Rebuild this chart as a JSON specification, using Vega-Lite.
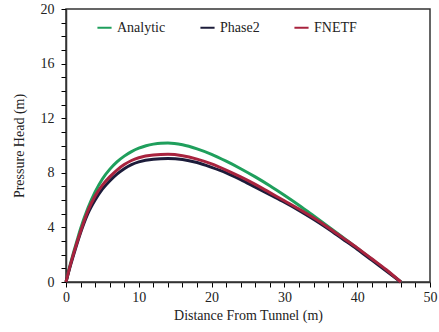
{
  "$schema": "https://vega.github.io/schema/vega-lite/v6.json",
  "width": 364,
  "height": 273,
  "autosize": "none",
  "padding": {"left": 66, "top": 9, "right": 9, "bottom": 50},
  "background": "white",
  "config": {
    "font": "'Liberation Serif', 'DejaVu Serif', serif",
    "view": {"stroke": "#333", "strokeWidth": 1.5},
    "legend": {"labelFont": "'Liberation Serif', 'DejaVu Serif', serif", "labelFontSize": 14, "labelColor": "#222"},
    "axis": {"grid": false, "domainColor": "#333", "domainWidth": 1.5, "labelColor": "#222", "titleColor": "#222", "labelFont": "'Liberation Serif', 'DejaVu Serif', serif", "titleFont": "'Liberation Serif', 'DejaVu Serif', serif", "labelFontSize": 14, "titleFontSize": 14, "titleFontWeight": "normal"}
  },
  "data": {"values": [
    {"series": "Analytic", "x": 0, "y": 0},
    {"series": "Analytic", "x": 0.5, "y": 1.1},
    {"series": "Analytic", "x": 1, "y": 2.1},
    {"series": "Analytic", "x": 1.5, "y": 3.0},
    {"series": "Analytic", "x": 2, "y": 3.9},
    {"series": "Analytic", "x": 3, "y": 5.4},
    {"series": "Analytic", "x": 4, "y": 6.6},
    {"series": "Analytic", "x": 5, "y": 7.55},
    {"series": "Analytic", "x": 6, "y": 8.25},
    {"series": "Analytic", "x": 7, "y": 8.8},
    {"series": "Analytic", "x": 8, "y": 9.22},
    {"series": "Analytic", "x": 9, "y": 9.55},
    {"series": "Analytic", "x": 10, "y": 9.8},
    {"series": "Analytic", "x": 11, "y": 9.98},
    {"series": "Analytic", "x": 12, "y": 10.1},
    {"series": "Analytic", "x": 13, "y": 10.17},
    {"series": "Analytic", "x": 14, "y": 10.18},
    {"series": "Analytic", "x": 16, "y": 10.05},
    {"series": "Analytic", "x": 18, "y": 9.75},
    {"series": "Analytic", "x": 20, "y": 9.35},
    {"series": "Analytic", "x": 22, "y": 8.85},
    {"series": "Analytic", "x": 24, "y": 8.3},
    {"series": "Analytic", "x": 26, "y": 7.7},
    {"series": "Analytic", "x": 28, "y": 7.05},
    {"series": "Analytic", "x": 30, "y": 6.35},
    {"series": "Analytic", "x": 32, "y": 5.62},
    {"series": "Analytic", "x": 34, "y": 4.85},
    {"series": "Analytic", "x": 36, "y": 4.07},
    {"series": "Analytic", "x": 38, "y": 3.28},
    {"series": "Analytic", "x": 40, "y": 2.48},
    {"series": "Analytic", "x": 42, "y": 1.67},
    {"series": "Analytic", "x": 44, "y": 0.85},
    {"series": "Analytic", "x": 46, "y": 0.0},
    {"series": "Phase2", "x": 0, "y": 0},
    {"series": "Phase2", "x": 0.5, "y": 1.0},
    {"series": "Phase2", "x": 1, "y": 1.9},
    {"series": "Phase2", "x": 2, "y": 3.6},
    {"series": "Phase2", "x": 3, "y": 5.0},
    {"series": "Phase2", "x": 4, "y": 6.0},
    {"series": "Phase2", "x": 5, "y": 6.8},
    {"series": "Phase2", "x": 6, "y": 7.4},
    {"series": "Phase2", "x": 7, "y": 7.9},
    {"series": "Phase2", "x": 8, "y": 8.3},
    {"series": "Phase2", "x": 9, "y": 8.6},
    {"series": "Phase2", "x": 10, "y": 8.8},
    {"series": "Phase2", "x": 12, "y": 9.0},
    {"series": "Phase2", "x": 14, "y": 9.05},
    {"series": "Phase2", "x": 16, "y": 8.98},
    {"series": "Phase2", "x": 18, "y": 8.75},
    {"series": "Phase2", "x": 20, "y": 8.4},
    {"series": "Phase2", "x": 22, "y": 8.0},
    {"series": "Phase2", "x": 24, "y": 7.5},
    {"series": "Phase2", "x": 26, "y": 6.95},
    {"series": "Phase2", "x": 28, "y": 6.4},
    {"series": "Phase2", "x": 30, "y": 5.85},
    {"series": "Phase2", "x": 32, "y": 5.25},
    {"series": "Phase2", "x": 34, "y": 4.6},
    {"series": "Phase2", "x": 36, "y": 3.9},
    {"series": "Phase2", "x": 38, "y": 3.15},
    {"series": "Phase2", "x": 40, "y": 2.4},
    {"series": "Phase2", "x": 42, "y": 1.6},
    {"series": "Phase2", "x": 44, "y": 0.8},
    {"series": "Phase2", "x": 46, "y": 0.0},
    {"series": "FNETF", "x": 0, "y": 0},
    {"series": "FNETF", "x": 0.5, "y": 1.05},
    {"series": "FNETF", "x": 1, "y": 2.0},
    {"series": "FNETF", "x": 2, "y": 3.7},
    {"series": "FNETF", "x": 3, "y": 5.2},
    {"series": "FNETF", "x": 4, "y": 6.3},
    {"series": "FNETF", "x": 5, "y": 7.1},
    {"series": "FNETF", "x": 6, "y": 7.7},
    {"series": "FNETF", "x": 7, "y": 8.2},
    {"series": "FNETF", "x": 8, "y": 8.6},
    {"series": "FNETF", "x": 9, "y": 8.9},
    {"series": "FNETF", "x": 10, "y": 9.1},
    {"series": "FNETF", "x": 12, "y": 9.3},
    {"series": "FNETF", "x": 14, "y": 9.35},
    {"series": "FNETF", "x": 16, "y": 9.25},
    {"series": "FNETF", "x": 18, "y": 9.0},
    {"series": "FNETF", "x": 20, "y": 8.65},
    {"series": "FNETF", "x": 22, "y": 8.2},
    {"series": "FNETF", "x": 24, "y": 7.7},
    {"series": "FNETF", "x": 26, "y": 7.15},
    {"series": "FNETF", "x": 28, "y": 6.55},
    {"series": "FNETF", "x": 30, "y": 5.95},
    {"series": "FNETF", "x": 32, "y": 5.35},
    {"series": "FNETF", "x": 34, "y": 4.7},
    {"series": "FNETF", "x": 36, "y": 4.0},
    {"series": "FNETF", "x": 38, "y": 3.25},
    {"series": "FNETF", "x": 40, "y": 2.5},
    {"series": "FNETF", "x": 42, "y": 1.7},
    {"series": "FNETF", "x": 44, "y": 0.9},
    {"series": "FNETF", "x": 46, "y": 0.0}
  ]},
  "mark": {"type": "line", "strokeWidth": 3, "interpolate": "monotone"},
  "encoding": {
    "x": {"field": "x", "type": "quantitative", "scale": {"domain": [0, 50], "nice": false},
      "axis": {"title": "Distance From Tunnel (m)", "values": [0,2,4,6,8,10,12,14,16,18,20,22,24,26,28,30,32,34,36,38,40,42,44,46,48,50],
        "format": "d", "labelExpr": "datum.value % 10 === 0 ? datum.label : ''", "ticks": true, "tickSize": 5, "tickColor": "#000", "tickWidth": 1, "tickOpacity": 1, "labelPadding": 3, "titlePadding": 4, "labelFlush": false, "labelOverlap": false}},
    "y": {"field": "y", "type": "quantitative", "scale": {"domain": [0, 20], "nice": false},
      "axis": {"title": "Pressure Head (m)", "values": [0,0.5,1,1.5,2,2.5,3,3.5,4,4.5,5,5.5,6,6.5,7,7.5,8,8.5,9,9.5,10,10.5,11,11.5,12,12.5,13,13.5,14,14.5,15,15.5,16,16.5,17,17.5,18,18.5,19,19.5,20],
        "format": "d", "labelExpr": "datum.value % 4 === 0 ? datum.label : ''", "ticks": true, "tickSize": 5, "tickColor": "#000", "tickWidth": 1, "tickOpacity": 1, "labelPadding": 7, "titlePadding": 14, "labelFlush": false, "labelOverlap": false}},
    "color": {"field": "series", "type": "nominal", "sort": ["Analytic", "Phase2", "FNETF"],
      "scale": {"domain": ["Analytic", "Phase2", "FNETF"], "range": ["#1f9f5c", "#1c1c3a", "#a8233e"]},
      "legend": {"title": null, "orient": "none", "legendX": 30, "legendY": 10, "direction": "horizontal", "symbolType": "stroke", "symbolStrokeWidth": 2, "symbolSize": 200, "columnPadding": 30}}
  }
}
